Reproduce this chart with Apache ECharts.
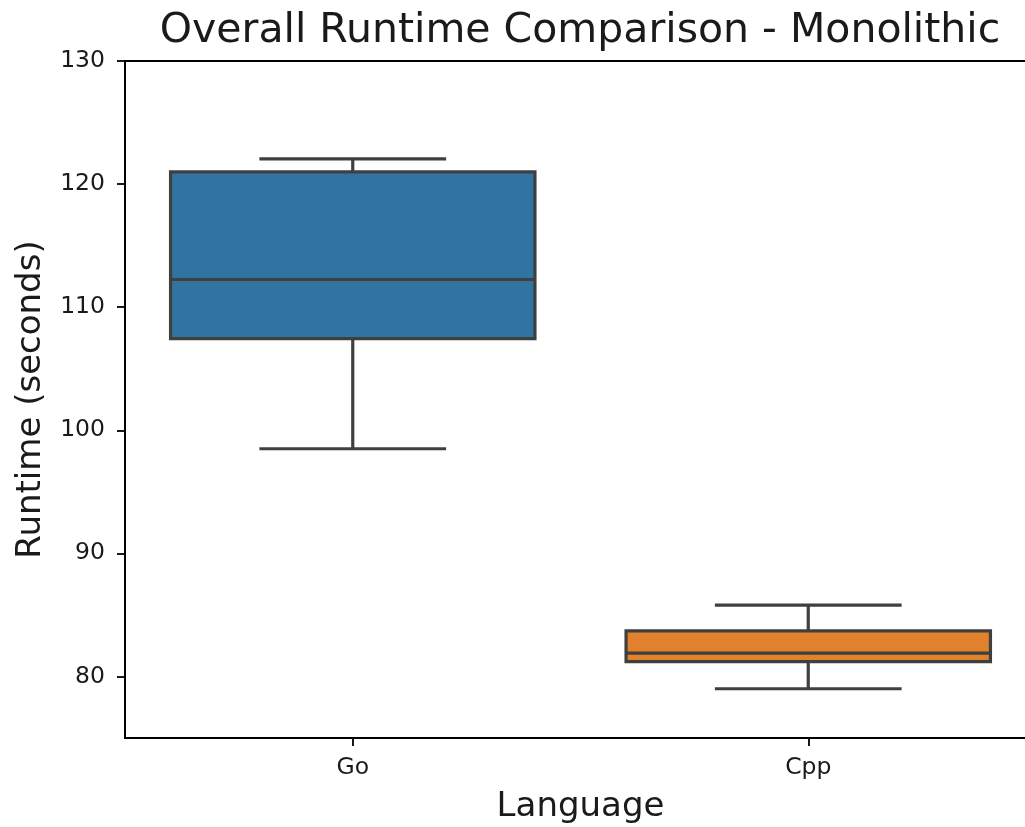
<!DOCTYPE html>
<html>
<head>
<meta charset="utf-8">
<script src="https://cdn.jsdelivr.net/npm/echarts@6/dist/echarts.min.js"></script>
<style>
  html, body { margin: 0; padding: 0; background: #fff; overflow: hidden; }
  #chart { width: 1040px; height: 827px; }
</style>
</head>
<body>
<div id="chart"></div>
<script>
// ---- data ----
const categories = ['Go', 'Cpp'];
// box statistics per category
const lowWhisker = [98.5, 79.0];
const q1Values = [107.45, 81.2];
const medianValues = [112.25, 81.9];
const q3Values = [121.0, 83.7];
const highWhisker = [122.05, 85.8];
const yTickValues = [80, 90, 100, 110, 120, 130];
const boxColors = ['#3274a1', '#e1812c'];

const chart = echarts.init(document.getElementById('chart'), null, { renderer: 'canvas' });
const FONT = 'DejaVu Sans';
const LINE = '#3f3f3f';

const seriesData = categories.map((c, i) => [i, lowWhisker[i], q1Values[i], medianValues[i], q3Values[i], highWhisker[i]]);

function renderItem(params, api) {
  const idx = api.value(0);
  const band = api.size([1, 0])[0];
  const boxW = band * 0.8;
  const capW = band * 0.41;
  const pLow = api.coord([idx, api.value(1)]);
  const pQ1 = api.coord([idx, api.value(2)]);
  const pMed = api.coord([idx, api.value(3)]);
  const pQ3 = api.coord([idx, api.value(4)]);
  const pHigh = api.coord([idx, api.value(5)]);
  const cx = pMed[0];
  const lw = 3.2;
  const ls = { stroke: LINE, lineWidth: lw, fill: null };
  return {
    type: 'group',
    children: [
      { type: 'line', shape: { x1: cx, y1: pQ1[1], x2: cx, y2: pLow[1] }, style: ls },
      { type: 'line', shape: { x1: cx, y1: pQ3[1], x2: cx, y2: pHigh[1] }, style: ls },
      { type: 'line', shape: { x1: cx - capW / 2, y1: pLow[1], x2: cx + capW / 2, y2: pLow[1] }, style: ls },
      { type: 'line', shape: { x1: cx - capW / 2, y1: pHigh[1], x2: cx + capW / 2, y2: pHigh[1] }, style: ls },
      { type: 'rect', shape: { x: cx - boxW / 2, y: pQ3[1], width: boxW, height: pQ1[1] - pQ3[1] },
        style: { fill: boxColors[idx], stroke: LINE, lineWidth: lw } },
      { type: 'line', shape: { x1: cx - boxW / 2, y1: pMed[1], x2: cx + boxW / 2, y2: pMed[1] }, style: ls }
    ]
  };
}

const option = {
  backgroundColor: '#ffffff',
  animation: false,
  title: {
    text: 'Overall Runtime Comparison - Monolithic',
    left: 575,
    textAlign: 'center',
    top: 6,
    textStyle: { fontFamily: FONT, fontSize: 41, fontWeight: 'normal', color: '#1a1a1a' }
  },
  grid: {
    left: 125, top: 61, width: 911, height: 677,
    outerBoundsMode: 'none',
    containLabel: false,
    show: true, borderColor: '#000', borderWidth: 1.8, backgroundColor: 'transparent'
  },
  xAxis: {
    type: 'category',
    data: categories,
    boundaryGap: true,
    name: 'Language',
    nameLocation: 'middle',
    nameGap: 52,
    nameTextStyle: { fontFamily: FONT, fontSize: 34, color: '#1a1a1a' },
    axisLine: { show: true, lineStyle: { color: '#000', width: 1.8 } },
    axisTick: { show: true, alignWithLabel: true, length: 8, lineStyle: { color: '#000', width: 1.8 } },
    axisLabel: { fontFamily: FONT, fontSize: 23.5, color: '#1a1a1a', margin: 18 },
    splitLine: { show: false }
  },
  yAxis: {
    type: 'value',
    min: 75,
    max: 130,
    interval: 5,
    name: 'Runtime (seconds)',
    nameLocation: 'middle',
    nameGap: 77,
    nameTextStyle: { fontFamily: FONT, fontSize: 34, color: '#1a1a1a' },
    axisLine: { show: true, lineStyle: { color: '#000', width: 1.8 } },
    axisTick: { show: true, length: 8, customValues: yTickValues, lineStyle: { color: '#000', width: 1.8 } },
    axisLabel: { fontFamily: FONT, fontSize: 23.5, color: '#1a1a1a', margin: 20, customValues: yTickValues },
    splitLine: { show: false }
  },
  series: [{
    type: 'custom',
    renderItem: renderItem,
    encode: { x: 0, y: [1, 2, 3, 4, 5] },
    data: seriesData,
    clip: false
  }]
};
chart.setOption(option);
</script>
</body>
</html>
